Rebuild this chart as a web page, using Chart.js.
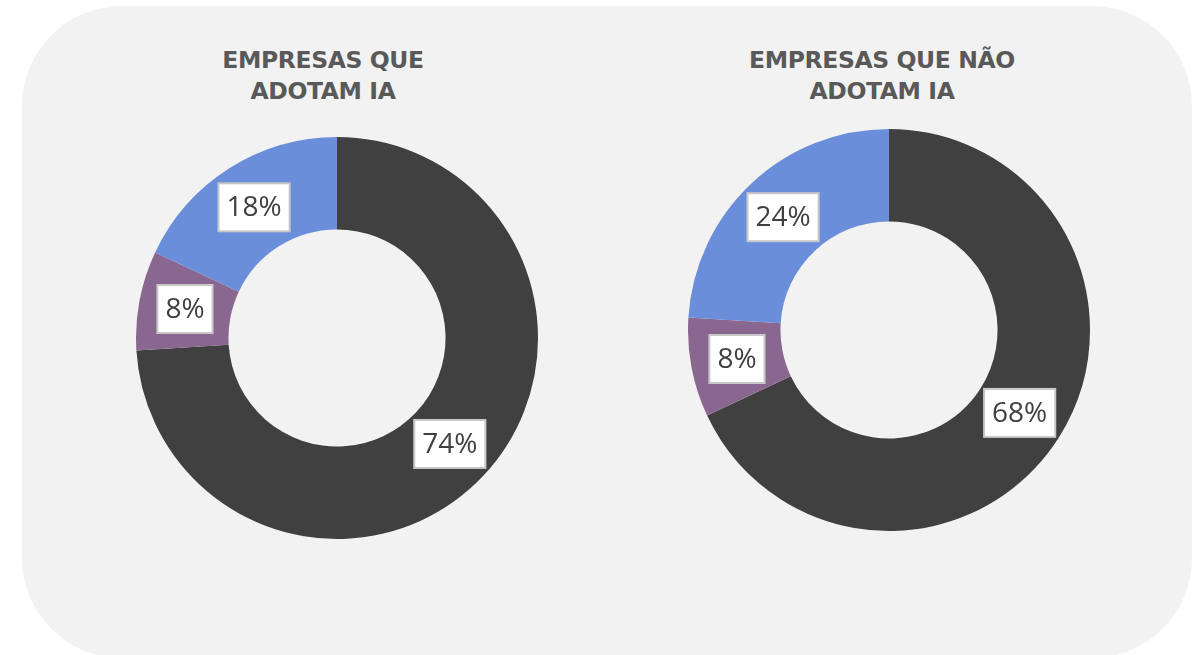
<!DOCTYPE html>
<html>
<head>
<meta charset="utf-8">
<script src="https://cdn.jsdelivr.net/npm/chart.js@4"></script>
<style>
  body { margin: 0; background: #ffffff; width: 1197px; height: 655px; overflow: hidden; position: relative; }
  #panel {
    position: absolute; left: 22px; top: 6px; width: 1170px; height: 652px;
    background: #f2f2f2; border-radius: 100px;
  }
  .title {
    position: absolute; width: 400px; text-align: center;
    font-family: "DejaVu Sans", sans-serif; font-weight: 700;
    font-size: 23.5px; line-height: 31px; color: #595959; letter-spacing: -0.4px;
  }
  .box { position: absolute; width: 402px; height: 402px; }
</style>
</head>
<body>
<div id="panel"></div>
<div class="title" style="left:123px; top:45px;">EMPRESAS QUE<br>ADOTAM IA</div>
<div class="title" style="left:682px; top:45px;">EMPRESAS QUE NÃO<br>ADOTAM IA</div>
<div class="box" style="left:136px; top:137px;"><canvas id="chartSim"></canvas></div>
<div class="box" style="left:688px; top:129px;"><canvas id="chartNao"></canvas></div>

<script>
var categorias = ['Categoria 1', 'Categoria 2', 'Categoria 3'];
var valoresAdotam = [74, 8, 18];
var valoresNaoAdotam = [68, 8, 24];
var cores = ['#404040', '#8a6790', '#6b8edb'];

// desenha as caixinhas brancas com a porcentagem no meio de cada fatia
var caixasPlugin = {
    id: 'caixas',
    afterDatasetsDraw: function(chart) {
        var ctx = chart.ctx;
        var meta = chart.getDatasetMeta(0);
        var dados = chart.data.datasets[0].data;
        ctx.save();
        ctx.font = '28px "Open Sans", sans-serif';
        ctx.textAlign = 'center';
        ctx.textBaseline = 'middle';
        meta.data.forEach(function(arc, i) {
            var p = arc.tooltipPosition();
            var txt = dados[i] + '%';
            var w = ctx.measureText(txt).width + 16;
            var h = 48;
            ctx.fillStyle = '#ffffff';
            ctx.strokeStyle = '#c8c8c8';
            ctx.lineWidth = 2;
            ctx.fillRect(p.x - w / 2, p.y - h / 2, w, h);
            ctx.strokeRect(p.x - w / 2, p.y - h / 2, w, h);
            ctx.fillStyle = '#404040';
            ctx.fillText(txt, p.x, p.y + 1);
        });
        ctx.restore();
    }
};

function makeDoughnut(id, valores) {
    return new Chart(document.getElementById(id), {
        type: 'doughnut',
        data: {
            labels: categorias,
            datasets: [{
                data: valores,
                backgroundColor: cores,
                borderWidth: 0
            }]
        },
        options: {
            responsive: true,
            maintainAspectRatio: false,
            animation: false,
            cutout: '54%',
            layout: { padding: 0 },
            plugins: {
                legend: { display: false },
                tooltip: { enabled: false }
            }
        },
        plugins: [caixasPlugin]
    });
}

makeDoughnut('chartSim', valoresAdotam);
makeDoughnut('chartNao', valoresNaoAdotam);
</script>
</body>
</html>
